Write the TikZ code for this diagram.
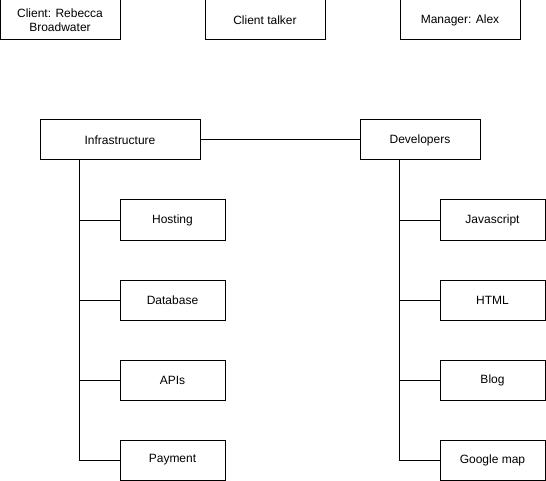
\documentclass[tikz,border=0pt]{standalone}
\usepackage{fontspec}
\setmainfont{Liberation Sans}
\usetikzlibrary{calc}

\begin{document}
\begin{tikzpicture}[x=0.75pt,y=-0.75pt,line width=0.75pt,
  box/.style={draw, minimum height=30pt, inner sep=0pt, align=center, font=\fontsize{9}{10.5}\selectfont},
  wide/.style={box, minimum width=90pt},
  leaf/.style={box, minimum width=78.75pt}]
            \useasboundingbox (0,0) rectangle (546,481);
            \node[wide] (Client) at (60,20) {Client: Rebecca\\Broadwater};
            \node[wide] (Talker) at (265,20) {Client talker};
            \node[wide] (Manager) at (460,20) {Manager: Alex};
            \node[box, minimum width=120pt] (Infra) at (120,140) {Infrastructure};
            \node[wide] (Dev) at (420,140) {Developers};
            \node[leaf] (Host) at (172.5,220) {Hosting};
            \node[leaf] (Db) at (172.5,300) {Database};
            \node[leaf] (Api) at (172.5,380) {APIs};
            \node[leaf] (Pay) at (172.5,460) {Payment};
            \node[leaf] (Js) at (492.5,220) {Javascript};
            \node[leaf] (Html) at (492.5,300) {HTML};
            \node[leaf] (Blog) at (492.5,380) {Blog};
            \node[leaf] (Map) at (492.5,460) {Google map};
            \draw (Infra) -- (Dev);
            \draw ($(Infra.south west)+(40,0)$) |- (Host.west);
            \draw ($(Infra.south west)+(40,0)$) |- (Db.west);
            \draw ($(Infra.south west)+(40,0)$) |- (Api.west);
            \draw ($(Infra.south west)+(40,0)$) |- (Pay.west);
            \draw ($(Dev.south west)+(40,0)$) |- (Js.west);
            \draw ($(Dev.south west)+(40,0)$) |- (Html.west);
            \draw ($(Dev.south west)+(40,0)$) |- (Blog.west);
            \draw ($(Dev.south west)+(40,0)$) |- (Map.west);
        \end{tikzpicture}
\end{document}
